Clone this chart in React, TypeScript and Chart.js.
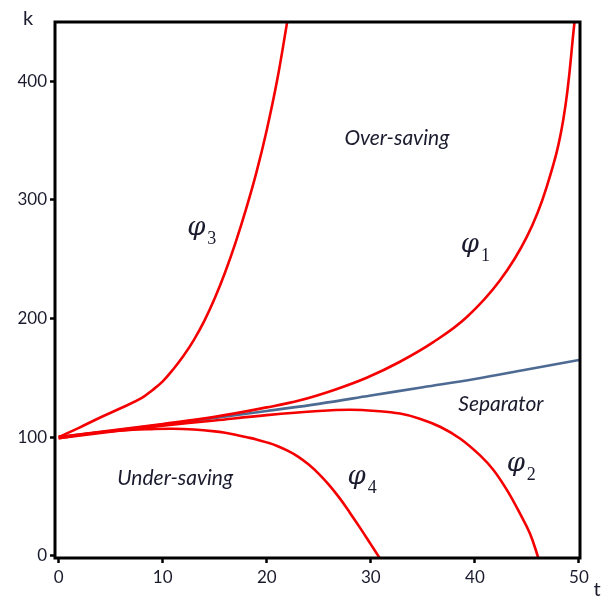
import React, { useEffect, useRef } from "react";
import { Chart, registerables } from "chart.js";

Chart.register(...registerables);

// Tick labels
const xTicks = [0, 10, 20, 30, 40, 50];
const yTicks = [0, 100, 200, 300, 400];

// Curves (t, k)
const phi1T = [0, 5, 10, 15, 20, 23.2, 26.4, 29.6, 32.8, 36, 39.2, 42.4, 45, 46.9, 48.5, 49.6];
const phi1K = [100, 105.5, 111, 117, 125, 131, 139.5, 150, 163.5, 180, 201, 232, 269, 311, 368, 452];

const phi3T = [0, 2, 4, 6, 8, 9, 10, 11, 12, 13, 14, 15, 16, 17, 18, 19, 20, 21, 22];
const phi3K = [100, 108, 116.5, 124.5, 133, 139.5, 147, 157, 168.5, 182, 198, 217, 239, 264, 292, 323, 359, 401, 452];

const phi4T = [0, 3, 6, 9, 11, 13, 15, 16, 17, 18, 19, 20, 21, 22, 23, 24, 25, 26, 27, 28, 29, 30, 30.7, 31];
const phi4K = [99, 103, 105.5, 106.7, 107, 106.3, 104.8, 103.6, 102, 100, 98, 95.5, 92.5, 88.5, 83.5, 77, 69, 59.5, 48.5, 36, 23, 9.5, 0, -4];

const phi2T = [0, 5, 10, 15, 20, 25, 28, 30.5, 32.8, 34.7, 36.7, 38.6, 40.5, 41.8, 43.1, 44.3, 45.3, 46.1];
const phi2K = [99, 104.5, 109.5, 114, 118.5, 122, 123, 122, 119.8, 115.5, 108.5, 98.6, 84.5, 72, 55, 36, 18.5, -2];

const sepT = [0, 5, 10, 15, 20, 25, 30, 35, 40, 45, 50];
const sepK = [100, 105, 110.5, 116, 122, 128, 135, 142, 149, 157, 165];

const toPts = (t: number[], k: number[]) => t.map((v, i) => ({ x: v, y: k[i] }));

const regionLabels = [
  { text: "Over-saving", t: 32.5, k: 352 },
  { text: "Separator", t: 42.5, k: 128 },
  { text: "Under-saving", t: 11.2, k: 65 },
];

const phiLabels = [
  { sub: "3", t: 14.1, k: 276 },
  { sub: "1", t: 40.4, k: 262 },
  { sub: "4", t: 29.5, k: 66 },
  { sub: "2", t: 44.8, k: 77 },
];

const TEXT = "#1b1b2e";

const overlay = {
  id: "overlay",
  afterDatasetsDraw(chart: any) {
    const { ctx, chartArea: a, scales } = chart;
    const xs = scales.x, ys = scales.y;
    ctx.save();
    ctx.strokeStyle = "#000";
    ctx.lineWidth = 3;
    ctx.strokeRect(a.left, a.top, a.right - a.left, a.bottom - a.top);

    ctx.fillStyle = TEXT;
    ctx.textAlign = "center";
    ctx.textBaseline = "middle";
    ctx.font = "italic 21px Lato, 'Open Sans', sans-serif";
    for (const l of regionLabels) {
      ctx.fillText(l.text, xs.getPixelForValue(l.t), ys.getPixelForValue(l.k));
    }
    for (const p of phiLabels) {
      const x = xs.getPixelForValue(p.t);
      const y = ys.getPixelForValue(p.k);
      ctx.textAlign = "right";
      ctx.font = "italic 26px 'DejaVu Serif', 'Liberation Serif', serif";
      ctx.fillText("\u03C6", x, y);
      ctx.textAlign = "left";
      ctx.font = "18px 'Liberation Serif', serif";
      ctx.fillText(p.sub, x + 2, y + 11);
    }
    ctx.font = "20px Lato, 'Open Sans', sans-serif";
    ctx.textAlign = "center";
    ctx.fillText("k", 28, 19);
    ctx.fillText("t", 597, 590);
    ctx.restore();
  },
};

export default function App() {
  const ref = useRef<HTMLCanvasElement | null>(null);
  useEffect(() => {
    if (!ref.current) return;
    const red = "#f50000";
    const mk = (label: string, data: any[], color: string) => ({
      label,
      data,
      borderColor: color,
      backgroundColor: color,
      borderWidth: 2.6,
      pointRadius: 0,
      showLine: true,
      fill: false,
      tension: 0.4,
    });
    const chart = new Chart(ref.current, {
      type: "scatter",
      data: {
        datasets: [
          mk("phi1", toPts(phi1T, phi1K), red),
          mk("phi2", toPts(phi2T, phi2K), red),
          mk("phi3", toPts(phi3T, phi3K), red),
          mk("phi4", toPts(phi4T, phi4K), red),
          mk("Separator", toPts(sepT, sepK), "#4d6a93"),
        ],
      },
      options: {
        animation: false,
        responsive: false,
        layout: { padding: { top: 22, right: 24, left: 0, bottom: 0 } },
        plugins: { legend: { display: false }, tooltip: { enabled: false } },
        scales: {
          x: {
            type: "linear",
            min: -0.35,
            max: 50.1,
            afterBuildTicks: (s: any) => { s.ticks = xTicks.map((v) => ({ value: v })); },
            afterFit: (s: any) => { s.height = 43; },
            border: { display: false },
            grid: { drawOnChartArea: false, drawTicks: true, tickLength: 5, tickColor: "#000", tickWidth: 2.5 },
            ticks: { color: TEXT, padding: 4, font: { size: 17, family: "Lato, 'Open Sans', sans-serif" }, maxRotation: 0 },
          },
          y: {
            type: "linear",
            min: -2,
            max: 450,
            afterBuildTicks: (s: any) => { s.ticks = yTicks.map((v) => ({ value: v })); },
            afterFit: (s: any) => { s.width = 55; },
            border: { display: false },
            grid: { drawOnChartArea: false, drawTicks: true, tickLength: 5, tickColor: "#000", tickWidth: 2.5 },
            ticks: { color: TEXT, padding: 3, font: { size: 17, family: "Lato, 'Open Sans', sans-serif" } },
          },
        },
      },
      plugins: [overlay],
    });
    return () => chart.destroy();
  }, []);
  return (
    <div style={{ position: "fixed", left: 0, top: 0, width: 604, height: 601, background: "#fff" }}>
      <canvas ref={ref} width={604} height={601} style={{ width: 604, height: 601 }} />
    </div>
  );
}
